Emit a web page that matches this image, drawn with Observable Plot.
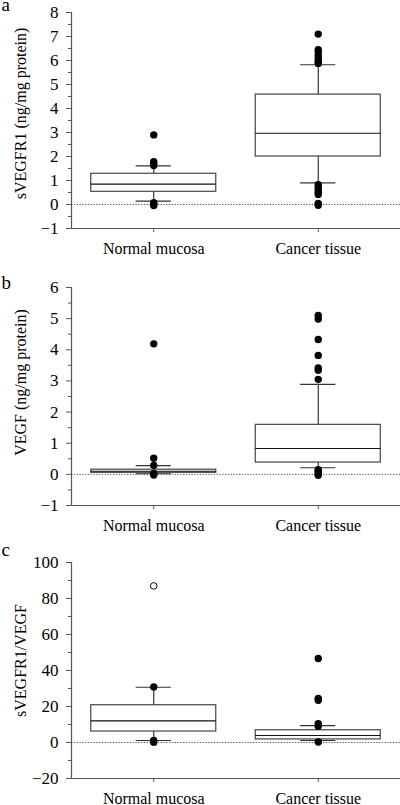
<!DOCTYPE html>
<html>
<head>
<meta charset="utf-8">
<script src="https://cdn.jsdelivr.net/npm/d3@7"></script>
<script src="https://cdn.jsdelivr.net/npm/@observablehq/plot@0.6"></script>
<style>
  html, body { margin: 0; padding: 0; background: white; }
  #charts svg { display: block; font-family: 'Liberation Serif','Times New Roman',serif !important; }
  #charts svg text { font-family: 'Liberation Serif','Times New Roman',serif; }
</style>
</head>
<body>
<div id="charts"></div>
<script>
// ---- data ----
const categories = ["Normal mucosa", "Cancer tissue"];

// Panel a: sVEGFR1
const aQ1 = [0.53, 2.0];
const aMedian = [0.85, 2.97];
const aQ3 = [1.28, 4.58];
const aLow = [0.14, 0.9];
const aHigh = [1.61, 5.82];
const aOutNormal = [2.9, 1.78, 1.7, 1.62, 0.07, 0.02, -0.04];
const aOutCancer = [7.1, 6.45, 6.35, 6.2, 6.05, 5.95, 5.88, 0.82, 0.72, 0.6, 0.5, 0.42, 0.04, -0.03];

// Panel b: VEGF
const bQ1 = [0.05, 0.38];
const bMedian = [0.1, 0.83];
const bQ3 = [0.15, 1.59];
const bLow = [0.02, 0.21];
const bHigh = [0.28, 2.89];
const bOutNormal = [4.19, 0.52, 0.29, 0.03, -0.02];
const bOutCancer = [5.1, 4.99, 4.33, 3.82, 3.42, 3.34, 3.05, 0.15, 0.1, 0.05, 0.0, -0.03];

// Panel c: sVEGFR1/VEGF
const cQ1 = [6.1, 1.7];
const cMedian = [12, 3.9];
const cQ3 = [20.7, 6.8];
const cLow = [1.1, 1.1];
const cHigh = [30.7, 9.4];
const cOutNormal = [30.9, 1.2, 0.2];
const cOutNormalOpen = [87];
const cOutCancer = [46.7, 24.5, 23.5, 10.5, 9.0, 0.3];

// tick labels
const aTicks = [-1, 0, 1, 2, 3, 4, 5, 6, 7, 8];
const bTicks = [-1, 0, 1, 2, 3, 4, 5, 6];
const cTicks = [-20, 0, 20, 40, 60, 80, 100];

// ---- drawing ----
const FONT = "'Liberation Serif','Times New Roman',serif";
const BOX_HALF = 0.38;
const CAP_HALF = 0.107;
const fmt = d => (d < 0 ? "\u2212" + (-d) : String(d));

function minorOf(ticks) {
  const out = [];
  for (let i = 0; i < ticks.length - 1; i++) out.push((ticks[i] + ticks[i + 1]) / 2);
  return out;
}

function panel(o) {
  const boxes = categories.map((c, i) => ({
    pos: i + 0.5, q1: o.q1[i], med: o.median[i], q3: o.q3[i], lo: o.low[i], hi: o.high[i]
  }));
  const filled = [];
  o.outliers.forEach((arr, i) => arr.forEach(v => filled.push({pos: i + 0.5, v})));
  const open = [];
  (o.open || []).forEach((arr, i) => arr.forEach(v => open.push({pos: i + 0.5, v})));
  const yMin = o.ticks[0], yMax = o.ticks[o.ticks.length - 1];

  return Plot.plot({
    width: 400,
    height: o.height,
    marginLeft: 71,
    marginRight: 0,
    marginTop: o.marginTop,
    marginBottom: o.marginBottom,
    style: `font-family: ${FONT}; background: white; color: black; overflow: visible;`,
    x: {domain: [0, 2], axis: null},
    y: {domain: [yMin, yMax], axis: null},
    marks: [
      Plot.ruleY([0], {stroke: "#555", strokeDasharray: "1.3,1.5"}),
      Plot.ruleX([0], {stroke: "#555", strokeWidth: 1.2}),
      Plot.ruleY([yMin], {stroke: "#555", strokeWidth: 1.2}),
      Plot.axisY({ticks: o.ticks, tickFormat: fmt, tickSize: 5, tickPadding: 8, fontSize: 17, fontFamily: FONT, label: null, stroke: "#555", fill: "black"}),
      Plot.axisY({ticks: minorOf(o.ticks), tickSize: 3, tickFormat: () => "", label: null, stroke: "#555"}),
      Plot.axisX({ticks: [0.5, 1.5], tickFormat: d => categories[Math.floor(d)], tickSize: 4, tickPadding: 10.5, fontSize: 16, fontFamily: FONT, label: null, stroke: "#555", fill: "black"}),
      // whiskers
      Plot.ruleX(boxes, {x: "pos", y1: "q3", y2: "hi", stroke: "#222", strokeWidth: 1.1}),
      Plot.ruleX(boxes, {x: "pos", y1: "lo", y2: "q1", stroke: "#222", strokeWidth: 1.1}),
      Plot.ruleY(boxes, {y: "hi", x1: d => d.pos - CAP_HALF, x2: d => d.pos + CAP_HALF, stroke: "#333", strokeWidth: 1.1}),
      Plot.ruleY(boxes, {y: "lo", x1: d => d.pos - CAP_HALF, x2: d => d.pos + CAP_HALF, stroke: "#333", strokeWidth: 1.1}),
      // boxes
      Plot.rect(boxes, {x1: d => d.pos - BOX_HALF, x2: d => d.pos + BOX_HALF, y1: "q1", y2: "q3", fill: "white", stroke: "#444", strokeWidth: 1.2}),
      Plot.ruleY(boxes, {y: "med", x1: d => d.pos - BOX_HALF, x2: d => d.pos + BOX_HALF, stroke: "#111", strokeWidth: 1.1}),
      // outliers
      Plot.dot(filled, {x: "pos", y: "v", r: 3.7, fill: "black", stroke: "none"}),
      Plot.dot(open, {x: "pos", y: "v", r: 3.3, fill: "white", stroke: "black", strokeWidth: 1}),
      // y label
      Plot.text([o.label], {frameAnchor: "left", rotate: -90, dx: -51, dy: o.labelDy, textAnchor: "middle", lineAnchor: "middle", fontSize: 16, fontFamily: FONT, fill: "black"}),
      // panel tag
      Plot.text([o.tag], {frameAnchor: "top-left", dx: -70, dy: o.tagDy, fontSize: 19, fontFamily: FONT, textAnchor: "start", lineAnchor: "bottom", fill: "black"})
    ]
  });
}

const host = document.getElementById("charts");
host.appendChild(panel({
  tag: "a", label: "sVEGFR1 (ng/mg protein)",
  q1: aQ1, median: aMedian, q3: aQ3, low: aLow, high: aHigh,
  outliers: [aOutNormal, aOutCancer], ticks: aTicks,
  height: 270, marginTop: 12, marginBottom: 42, labelDy: -7, tagDy: -2
}));
host.appendChild(panel({
  tag: "b", label: "VEGF (ng/mg protein)",
  q1: bQ1, median: bMedian, q3: bQ3, low: bLow, high: bHigh,
  outliers: [bOutNormal, bOutCancer], ticks: bTicks,
  height: 265, marginTop: 17, marginBottom: 30, labelDy: -14, tagDy: 1
}));
host.appendChild(panel({
  tag: "c", label: "sVEGFR1/VEGF",
  q1: cQ1, median: cMedian, q3: cQ3, low: cLow, high: cHigh,
  outliers: [cOutNormal, cOutCancer], open: [cOutNormalOpen, []], ticks: cTicks,
  height: 270, marginTop: 27, marginBottom: 27, labelDy: -10, tagDy: -7
}));
</script>
</body>
</html>
